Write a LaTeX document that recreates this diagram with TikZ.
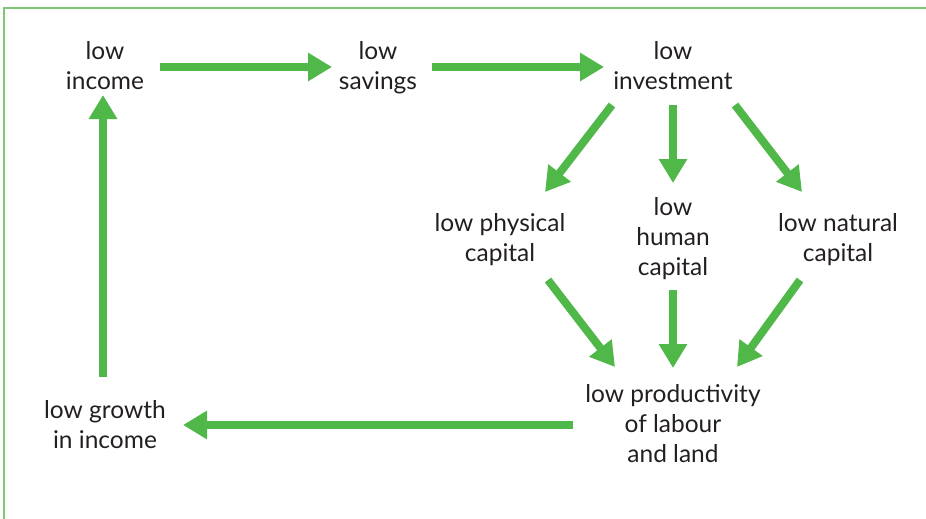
\documentclass[tikz,border=0pt]{standalone}
\usepackage{fontspec}
\setmainfont{Lato}
\usetikzlibrary{arrows.meta,calc}
\definecolor{arrgreen}{HTML}{50B848}
\definecolor{framegreen}{HTML}{80C878}
\definecolor{txt}{HTML}{231F20}
\begin{document}
\begin{tikzpicture}[x=1pt,y=-1pt,
  lbl/.style={align=center,text=txt,font=\fontsize{24.5}{30}\selectfont,inner sep=0pt},
  arr/.style={draw=arrgreen,line width=8pt,-{Triangle[width=27pt,length=24pt]},fill=arrgreen}]
\useasboundingbox (0,0) rectangle (926,519);
\draw[framegreen,line width=1.5pt] (4,519) -- (4,8) -- (926,8);
\node[lbl] (inc) at (105,68) {\strut low\\\strut income};
\node[lbl] (sav) at (378,68) {\strut low\\\strut savings};
\node[lbl] (inv) at (673,68) {\strut low\\\strut investment};
\node[lbl] (phys) at (500,240) {\strut low physical\\\strut capital};
\node[lbl] (hum) at (673,239) {\strut low\\\strut human\\\strut capital};
\node[lbl] (nat) at (838,240) {\strut low natural\\\strut capital};
\node[lbl] (prod) at (673,426) {\strut low productivity\\\strut of labour\\\strut and land};
\node[lbl] (grow) at (105,427) {\strut low growth\\\strut in income};
\draw[arr] ($(inc)+(55,-1)$) -- ($(sav)+(-46,-1)$);
\draw[arr] ($(sav)+(54,-1)$) -- ($(inv)+(-69,-1)$);
\draw[arr] ($(inv)+(-61,37)$) -- ($(phys)+(45,-48)$);
\draw[arr] ($(inv)+(0,37)$) -- ($(hum)+(0,-56)$);
\draw[arr] ($(inv)+(62,37)$) -- ($(nat)+(-36,-48)$);
\draw[arr] ($(phys)+(48,40)$) -- ($(prod)+(-58,-59)$);
\draw[arr] ($(hum)+(0,51)$) -- ($(prod)+(0,-58)$);
\draw[arr] ($(nat)+(-38,40)$) -- ($(prod)+(64,-59)$);
\draw[arr] ($(prod)+(-100,-1)$) -- ($(grow)+(78,-2)$);
\draw[arr] ($(grow)+(-2,-50)$) -- ($(inc)+(-2,27)$);
\end{tikzpicture}
\end{document}
